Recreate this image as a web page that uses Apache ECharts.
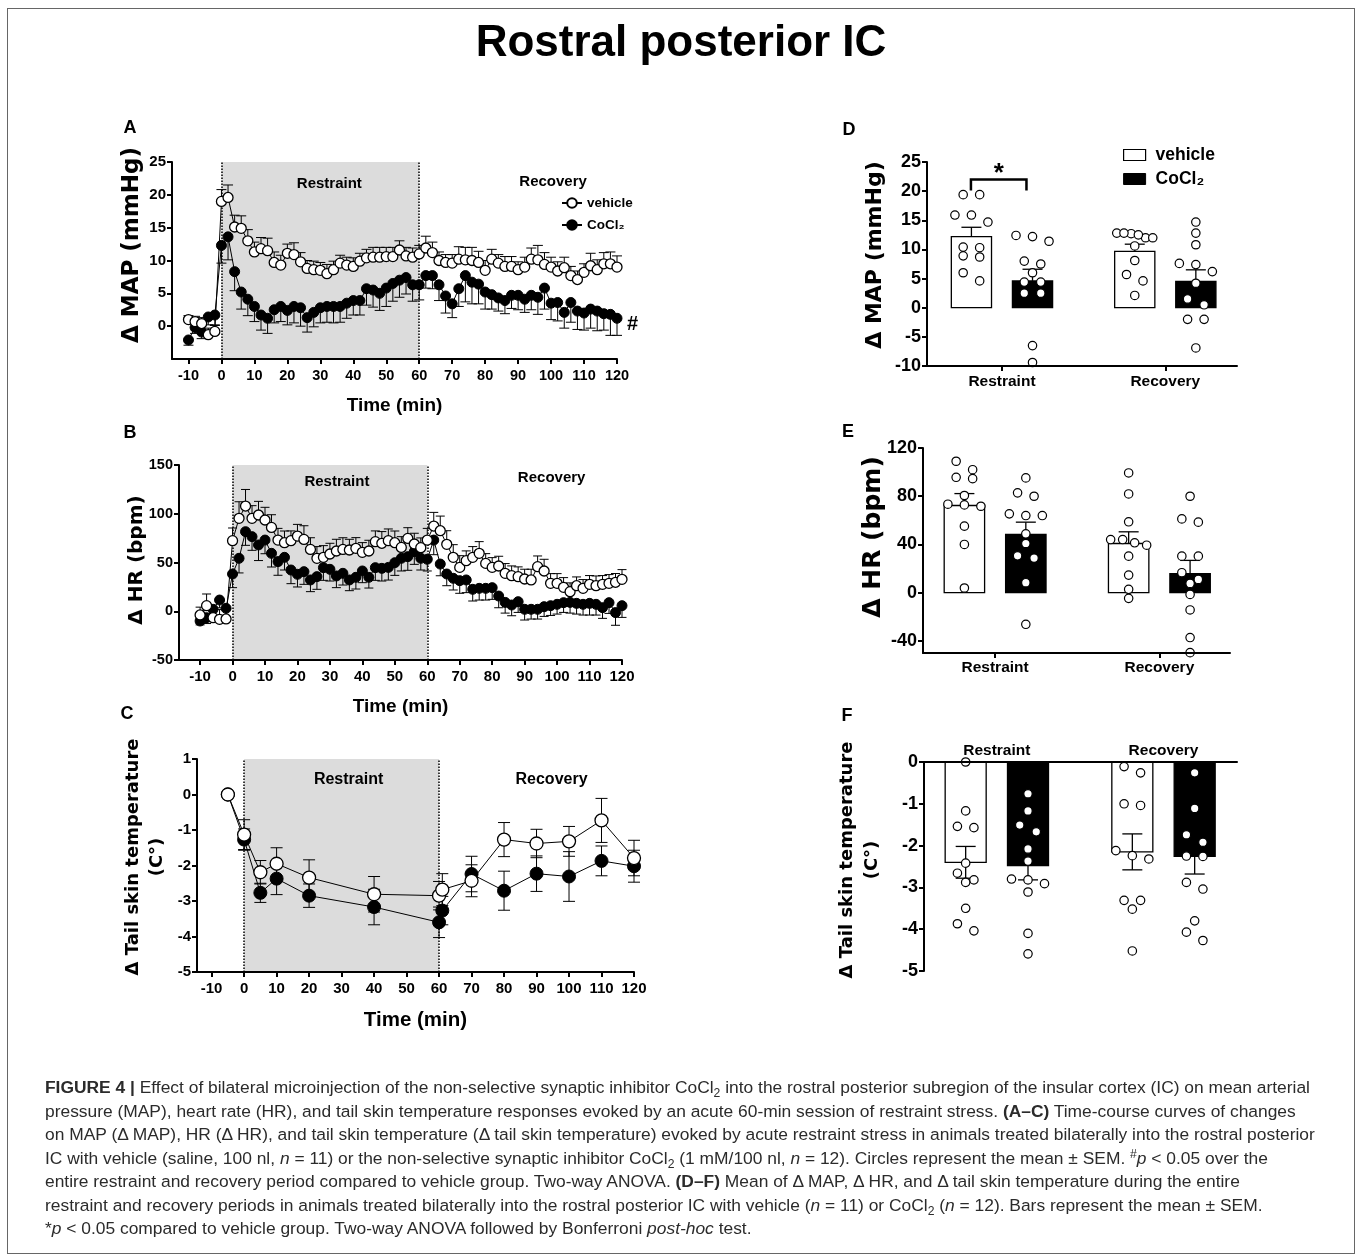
<!DOCTYPE html>
<html>
<head>
<meta charset="utf-8">
<title>Rostral posterior IC</title>
<script src="https://cdn.jsdelivr.net/npm/echarts@6/dist/echarts.min.js"></script>
<style>
  html, body { margin: 0; padding: 0; background: #fff; }
  #wrap { position: relative; width: 1358px; height: 1259px; overflow: hidden; }
  #chart { position: absolute; left: 0; top: 0; width: 1358px; height: 1259px; }
  #frame { position: absolute; left: 7px; top: 8px; width: 1348px; height: 1246px; border: 1px solid #666; box-sizing: border-box; pointer-events: none; }
  #caption { position: absolute; left: 45px; top: 1076px; width: 1290px; font-family: 'Liberation Sans', Arial, sans-serif; font-size: 17.4px; line-height: 23.5px; color: #2b2b2b; }
  #caption div { white-space: nowrap; }
  #caption sub { font-size: 0.7em; line-height: 0; vertical-align: -0.3em; }
  #caption sup { font-size: 0.7em; line-height: 0; vertical-align: 0.5em; }
</style>
</head>
<body>
<div id="wrap">
  <div id="chart"></div>
  <div id="frame"></div>
  <div id="caption">
    <div><b>FIGURE 4 |</b> Effect of bilateral microinjection of the non-selective synaptic inhibitor CoCl<sub>2</sub> into the rostral posterior subregion of the insular cortex (IC) on mean arterial</div>
    <div>pressure (MAP), heart rate (HR), and tail skin temperature responses evoked by an acute 60-min session of restraint stress. <b>(A–C)</b> Time-course curves of changes</div>
    <div>on MAP (Δ MAP), HR (Δ HR), and tail skin temperature (Δ tail skin temperature) evoked by acute restraint stress in animals treated bilaterally into the rostral posterior</div>
    <div>IC with vehicle (saline, 100 nl, <i>n</i> = 11) or the non-selective synaptic inhibitor CoCl<sub>2</sub> (1 mM/100 nl, <i>n</i> = 12). Circles represent the mean ± SEM. <sup>#</sup><i>p</i> &lt; 0.05 over the</div>
    <div>entire restraint and recovery period compared to vehicle group. Two-way ANOVA. <b>(D–F)</b> Mean of Δ MAP, Δ HR, and Δ tail skin temperature during the entire</div>
    <div>restraint and recovery periods in animals treated bilaterally into the rostral posterior IC with vehicle (<i>n</i> = 11) or CoCl<sub>2</sub> (<i>n</i> = 12). Bars represent the mean ± SEM.</div>
    <div>*<i>p</i> &lt; 0.05 compared to vehicle group. Two-way ANOVA followed by Bonferroni <i>post-hoc</i> test.</div>
  </div>
</div>
<script>
// ---- time course, panels A and B (min) ----
const timeAB = [-10, -8, -6, -4, -2, 0, 2, 4, 6, 8, 10, 12, 14, 16, 18, 20, 22, 24, 26, 28,
  30, 32, 34, 36, 38, 40, 42, 44, 46, 48, 50, 52, 54, 56, 58, 60, 62, 64, 66, 68,
  70, 72, 74, 76, 78, 80, 82, 84, 86, 88, 90, 92, 94, 96, 98, 100, 102, 104, 106, 108,
  110, 112, 114, 116, 118, 120];

// A: delta MAP (mmHg)
const mapVehicle = [1.0, 0.7, 0.4, -1.3, -0.8,
  19.0, 19.6, 15.1, 14.9, 13.0, 11.3, 11.8, 11.5, 9.7, 9.3,
  11.1, 10.9, 9.8, 8.8, 8.6, 8.5, 8.0, 8.6, 9.6, 9.3,
  9.1, 9.9, 10.4, 10.5, 10.5, 10.6, 10.6, 11.6, 10.7, 10.5,
  11.0, 11.9, 11.2, 10.0, 9.7, 9.6, 10.2, 10.1, 10.0, 9.7,
  8.5, 10.2, 9.6, 9.1, 9.1, 8.6, 9.0, 10.2, 10.1, 9.4,
  9.0, 8.4, 8.9, 7.7, 7.1, 8.2, 9.2, 8.6, 9.5, 9.5, 9.0];
const mapVehicleSem = [0.6, 0.8, 0.9, 1.0, 0.9,
  1.8, 1.9, 1.8, 1.9, 1.7, 1.5, 1.7, 1.9, 1.6, 1.5,
  1.4, 1.8, 1.4, 1.2, 1.3, 1.2, 1.4, 1.3, 1.2, 1.2,
  1.3, 1.2, 1.3, 1.5, 1.5, 1.4, 1.4, 1.4, 1.3, 1.4,
  1.3, 1.8, 1.6, 1.3, 1.2, 1.3, 1.9, 1.9, 2.0, 1.7,
  1.5, 1.5, 1.3, 1.5, 1.5, 1.2, 1.5, 1.7, 2.2, 1.8,
  1.5, 1.4, 1.6, 1.4, 1.3, 1.3, 1.9, 1.5, 1.7, 1.8, 1.7];
const mapCocl = [-2.1, -0.2, -0.9, 1.4, 1.7,
  12.3, 13.6, 8.3, 5.2, 4.1, 3.0, 1.7, 1.2, 2.5, 3.0,
  2.4, 3.0, 2.8, 1.3, 2.1, 2.8, 3.0, 3.0, 3.0, 3.5,
  3.9, 3.9, 5.7, 5.5, 5.0, 5.8, 6.5, 7.0, 7.4, 6.3,
  6.3, 7.7, 7.7, 6.3, 4.6, 3.4, 5.7, 7.7, 6.7, 6.4,
  5.2, 4.8, 4.3, 3.9, 4.7, 4.7, 4.1, 4.7, 4.4, 5.8,
  3.5, 3.6, 2.1, 3.6, 2.3, 2.0, 2.6, 2.3, 1.9, 1.8, 1.2];
const mapCoclSem = [0.8, 0.9, 1.0, 1.2, 1.5,
  2.7, 3.5, 2.9, 2.6, 2.5, 2.3, 2.3, 2.3, 2.0, 2.3,
  2.2, 2.5, 2.8, 2.2, 2.2, 2.3, 2.4, 2.5, 2.4, 2.3,
  2.2, 2.2, 2.5, 2.6, 2.6, 2.8, 2.7, 2.6, 2.5, 2.5,
  2.3, 1.9, 2.0, 2.4, 2.6, 2.1, 2.7, 4.0, 3.3, 3.0,
  2.6, 2.2, 2.0, 2.0, 2.0, 2.2, 2.0, 2.2, 2.6, 3.2,
  2.5, 2.8, 2.4, 3.0, 2.8, 2.6, 2.9, 3.0, 2.5, 3.2, 2.6];

// B: delta HR (bpm)
const hrVehicle = [-3.8, 5.7, -6.6, -8.3, -7.9,
  72.4, 95.3, 107.9, 95.3, 98.7, 93.6, 86.0, 73.0, 70.3, 72.4,
  77.1, 73.7, 63.4, 54.3, 55.3, 58.7, 61.8, 63.4, 62.8, 64.5,
  60.4, 61.8, 71.4, 69.7, 72.4, 70.3, 65.5, 74.7, 69.0, 65.2,
  73.0, 87.4, 82.6, 68.6, 55.3, 45.0, 51.9, 55.3, 59.4, 49.1,
  45.0, 46.4, 38.9, 36.5, 35.5, 33.1, 32.1, 45.7, 41.3, 28.6,
  28.6, 24.5, 20.1, 26.2, 23.5, 27.6, 26.2, 27.6, 28.6, 29.7, 32.7];
const hrVehicleSem = [8, 12, 10, 10, 10,
  13, 17, 17, 13, 14, 13, 13, 12, 12, 10,
  12, 14, 12, 12, 12, 11, 12, 12, 11, 11,
  10, 11, 11, 12, 12, 12, 11, 11, 11, 10,
  12, 14, 15, 14, 13, 12, 10, 11, 12, 10,
  10, 10, 10, 10, 10, 10, 11, 11, 12, 10,
  10, 10, 9, 9, 9, 9, 10, 9, 9, 9, 10];
const hrCocl = [-10, -6.6, 2.0, 11.5, 3.0,
  38.2, 54.3, 81.6, 76.5, 68.0, 73.0, 59.4, 50.9, 55.3, 42.3,
  37.9, 40.6, 32.1, 35.5, 44.7, 43.0, 36.2, 38.9, 32.1, 34.8,
  41.3, 34.8, 44.7, 44.0, 45.0, 49.8, 54.3, 56.0, 61.1, 54.3,
  53.3, 73.0, 48.4, 38.2, 33.8, 31.4, 32.1, 22.5, 23.5, 23.5,
  24.2, 15.6, 9.1, 6.4, 9.8, 2.0, 2.0, 2.0, 4.7, 5.7,
  7.1, 8.8, 9.1, 8.1, 7.1, 8.1, 7.1, 3.7, 8.8, -1.4, 5.7];
const hrCoclSem = [4, 6, 7, 8, 12,
  14, 15, 14, 14, 16, 14, 14, 14, 13, 14,
  13, 13, 12, 13, 13, 12, 12, 12, 11, 12,
  12, 11, 13, 13, 13, 13, 13, 14, 13, 12,
  12, 15, 12, 12, 12, 13, 13, 12, 12, 12,
  12, 12, 11, 11, 11, 11, 10, 10, 10, 10,
  10, 10, 11, 11, 11, 12, 11, 11, 11, 13, 12];

// C: delta tail skin temperature
const timeC = [-5, 0, 5, 10, 20, 40, 60, 61, 70, 80, 90, 100, 110, 120];
const tempVehicle = [0, -1.13, -2.19, -1.95, -2.34, -2.81, -2.85, -2.68, -2.43, -1.27, -1.38, -1.32, -0.73, -1.79];
const tempVehicleSem = [0, 0.42, 0.33, 0.45, 0.5, 0.5, 0.4, 0.45, 0.45, 0.48, 0.4, 0.42, 0.62, 0.5];
const tempCocl = [0, -1.27, -2.77, -2.37, -2.85, -3.17, -3.6, -3.27, -2.24, -2.71, -2.23, -2.31, -1.87, -2.02];
const tempCoclSem = [0, 0.3, 0.27, 0.45, 0.33, 0.5, 0.43, 0.4, 0.5, 0.55, 0.5, 0.7, 0.42, 0.45];

// ---- period means, panels D-F (Restraint, Recovery) ----
const periods = ['Restraint', 'Recovery'];
const dMapVehMean = [12.2, 9.65], dMapVehSem = [1.6, 1.25];
const dMapCoclMean = [4.6, 4.5], dMapCoclSem = [2.0, 2.0];
const eHrVehMean = [72.3, 40.8], eHrVehSem = [9.9, 9.7];
const eHrCoclMean = [48.3, 15.7], eHrCoclSem = [10.2, 11.1];
const fTempVehMean = [-2.40, -2.15], fTempVehSem = [0.38, 0.43];
const fTempCoclMean = [-2.48, -2.26], fTempCoclSem = [0.34, 0.42];

// individual animals
const mapVehRestraint = [19.4, 19.4, 15.9, 14.7, 15.9, 10.3, 10.4, 8.9, 8.7, 6.0, 4.6];
const mapCoclRestraint = [12.4, 11.4, 12.2, 8.0, 7.5, 6.0, 4.4, 4.4, 2.5, 2.5, -6.5, -9.4];
const mapVehRecovery = [12.7, 12.0, 12.8, 12.8, 12.0, 12.5, 10.6, 8.1, 5.7, 4.6, 2.1];
const mapCoclRecovery = [14.7, 12.8, 10.8, 7.6, 6.2, 7.4, 4.2, 1.5, 0.5, -2.0, -2.0, -6.9];
const hrVehRestraint = [109, 102, 95.7, 94.6, 80.6, 73.4, 71.7, 72.8, 55.2, 40, 3.9];
const hrCoclRestraint = [95.2, 80, 82.8, 64, 65.4, 64, 48.8, 40.8, 28.7, 30.6, 8.3, -26.2];
const hrVehRecovery = [99.3, 81.9, 58.8, 44.1, 39.4, 41.4, 44.1, 30.3, 14.6, 2.8, -4.7];
const hrCoclRecovery = [80, 61.2, 58.5, 30.3, 30.3, 16.6, 7.7, 11, -1.4, -14.3, -37.2, -49.7];
const tempVehRestraint = [0, -1.17, -1.57, -1.54, -2.42, -2.66, -2.82, -2.88, -3.5, -4.04, -3.87];
const tempCoclRestraint = [-0.76, -1.17, -1.51, -1.67, -2.08, -2.37, -2.8, -2.82, -2.91, -3.11, -4.1, -4.59];
const tempVehRecovery = [-0.11, -0.26, -1.04, -1.0, -2.12, -2.32, -2.24, -3.31, -3.31, -3.52, -4.52];
const tempCoclRecovery = [-0.26, -1.11, -1.74, -1.92, -2.25, -2.26, -2.88, -3.04, -3.8, -4.07, -4.27];

// significance bracket on D restraint: [period, top, leg end]
const sigBracket = [[1, 22.0, 20.1]];

const timeTicks = [-10, 0, 10, 20, 30, 40, 50, 60, 70, 80, 90, 100, 110, 120];

//#region helpers
const SANS = "'Liberation Sans', Arial, sans-serif";
const DEJAVU = "'DejaVu Sans', sans-serif";
const BAR_OFF = 0.187, BAR_HALF = 0.123, DOT_R = 4.2, DOT_ROW = 8.6;
const axisLineStyle = { color: '#000', width: 2 };

const zip3 = (xs, ys, es) => xs.map((x, i) => [x, ys[i], es[i]]);

function errorRender(dir, capW) {
  // dir: 1 up, -1 down, 0 both ways
  return (params, api) => {
    const x = api.value(0), m = api.value(1), s = api.value(2);
    const ends = dir === 0 ? [m - s, m + s] : [m, m + dir * s];
    const p1 = api.coord([x, ends[0]]), p2 = api.coord([x, ends[1]]);
    const st = { stroke: '#000', lineWidth: 1 };
    const children = [{ type: 'line', shape: { x1: p1[0], y1: p1[1], x2: p2[0], y2: p2[1] }, style: st }];
    (dir === 0 ? [p1, p2] : [p2]).forEach(p => children.push({
      type: 'line', shape: { x1: p[0] - capW / 2, y1: p[1], x2: p[0] + capW / 2, y2: p[1] }, style: st
    }));
    return { type: 'group', children };
  };
}

function errSeries(gi, xs, ys, es, dir, capW) {
  return {
    type: 'custom', xAxisIndex: gi, yAxisIndex: gi, z: 2, silent: true,
    data: zip3(xs, ys, es), encode: { x: 0, y: 1 }, renderItem: errorRender(dir, capW)
  };
}

function meanSeries(gi, name, xs, ys, filled, size, extra) {
  return Object.assign({
    type: 'line', name, xAxisIndex: gi, yAxisIndex: gi, silent: true,
    data: xs.map((x, i) => [x, ys[i]]),
    symbol: 'circle', symbolSize: size, showSymbol: true, z: filled ? 3 : 4,
    lineStyle: { color: '#000', width: 1 },
    itemStyle: filled ? { color: '#000', borderColor: '#000', borderWidth: 1 }
                      : { color: '#fff', borderColor: '#000', borderWidth: 1.3 },
    emphasis: { disabled: true }
  }, extra || {});
}

function phases(restOff, recOff, fontSize) {
  const lab = off => ({
    show: true, position: 'insideTop', distance: 0, offset: off, color: '#000',
    fontFamily: SANS, fontWeight: 'bold', fontSize
  });
  return {
    markArea: {
      silent: true, z: 1,
      data: [
        [{ name: 'Restraint', xAxis: 0, itemStyle: { color: '#dcdcdc' }, label: lab(restOff) }, { xAxis: 60 }],
        [{ name: 'Recovery', xAxis: 60, itemStyle: { color: 'rgba(0,0,0,0)' }, label: lab(recOff) }, { xAxis: 120 }]
      ]
    },
    markLine: {
      silent: true, z: 1, symbol: ['none', 'none'], label: { show: false },
      lineStyle: { color: '#000', type: 'dotted', width: 1.5 },
      data: [{ xAxis: 0 }, { xAxis: 60 }]
    }
  };
}

function timeXAxis(gi, min, fontSize, nameSize, nameGap) {
  return {
    type: 'value', gridIndex: gi, min, max: 120, z: 10,
    axisLine: { onZero: false, lineStyle: axisLineStyle },
    axisTick: { customValues: timeTicks, length: 5, lineStyle: axisLineStyle },
    axisLabel: { customValues: timeTicks, color: '#000', fontFamily: SANS, fontWeight: 'bold', fontSize, margin: 9 },
    splitLine: { show: false },
    name: 'Time (min)', nameLocation: 'middle', nameGap,
    nameTextStyle: { color: '#000', fontFamily: SANS, fontWeight: 'bold', fontSize: nameSize }
  };
}

function periodXAxis(gi, min, max, position, margin) {
  return {
    type: 'value', gridIndex: gi, min, max, position, z: 10,
    axisLine: { onZero: false, lineStyle: axisLineStyle },
    axisTick: { show: position !== 'top', customValues: [1, 2], length: 5, lineStyle: axisLineStyle },
    axisLabel: {
      customValues: [1, 2], formatter: v => periods[Math.round(v) - 1],
      color: '#000', fontFamily: SANS, fontWeight: 'bold', fontSize: 15.5, margin
    },
    splitLine: { show: false }
  };
}

function valueYAxis(gi, min, max, ticks, fontSize) {
  return {
    type: 'value', gridIndex: gi, min, max, z: 10,
    axisLine: { show: true, onZero: false, lineStyle: axisLineStyle },
    axisTick: { show: true, customValues: ticks, length: 5, lineStyle: axisLineStyle },
    axisLabel: { customValues: ticks, color: '#000', fontFamily: SANS, fontWeight: 'bold', fontSize, margin: 6 },
    splitLine: { show: false }
  };
}

// x offsets for a column of dots: values that overlap vertically share a row
function swarm(ys, rowH, maxGap, room) {
  const idx = ys.map((y, i) => i).sort((a, b) => ys[a] - ys[b]);
  const off = new Array(ys.length).fill(0);
  let i = 0;
  while (i < idx.length) {
    let j = i + 1;
    while (j < idx.length && ys[idx[j]] - ys[idx[i]] < rowH) j++;
    const k = j - i;
    const gap = k > 1 ? Math.min(maxGap, room / (k - 1)) : 0;
    for (let n = 0; n < k; n++) off[idx[i + n]] = (n - (k - 1) / 2) * gap;
    i = j;
  }
  return off;
}

function barRender(fill, bothWays) {
  return (params, api) => {
    const x = api.value(0), m = api.value(1), s = api.value(2);
    const a = api.coord([x - BAR_HALF, m]), b = api.coord([x + BAR_HALF, 0]);
    const dir = m >= 0 ? 1 : -1;
    const ends = bothWays ? [m - s, m + s] : [m, m + dir * s];
    const e1 = api.coord([x, ends[0]]), e2 = api.coord([x, ends[1]]);
    const st = { stroke: '#000', lineWidth: 1.3 };
    const children = [
      { type: 'rect', shape: { x: a[0], y: Math.min(a[1], b[1]), width: b[0] - a[0], height: Math.abs(b[1] - a[1]) },
        style: { fill, stroke: '#000', lineWidth: 1.3 } },
      { type: 'line', shape: { x1: e1[0], y1: e1[1], x2: e2[0], y2: e2[1] }, style: st }
    ];
    (bothWays ? [e1, e2] : [e2]).forEach(p => children.push({
      type: 'line', shape: { x1: p[0] - 10, y1: p[1], x2: p[0] + 10, y2: p[1] }, style: st
    }));
    return { type: 'group', children };
  };
}

function barPanel(gi, vehMean, vehSem, coclMean, coclSem, dots, bothWays) {
  const vehPos = [1 - BAR_OFF, 2 - BAR_OFF], coclPos = [1 + BAR_OFF, 2 + BAR_OFF];
  const groups = [
    { pos: vehPos[0], values: dots[0] }, { pos: coclPos[0], values: dots[1] },
    { pos: vehPos[1], values: dots[2] }, { pos: coclPos[1], values: dots[3] }
  ];
  const dotData = [];
  groups.forEach((g, k) => g.values.forEach((v, vi) => dotData.push([g.pos, v, k, vi])));
  return [
    { type: 'custom', xAxisIndex: gi, yAxisIndex: gi, z: 2, silent: true,
      data: zip3(vehPos, vehMean, vehSem), encode: { x: 0, y: 1 }, renderItem: barRender('#fff', bothWays) },
    { type: 'custom', xAxisIndex: gi, yAxisIndex: gi, z: 2, silent: true,
      data: zip3(coclPos, coclMean, coclSem), encode: { x: 0, y: 1 }, renderItem: barRender('#000', bothWays) },
    { type: 'custom', xAxisIndex: gi, yAxisIndex: gi, z: 5, silent: true,
      data: dotData, encode: { x: 0, y: 1 },
      renderItem: (params, api) => {
        const g = groups[api.value(2)], vi = api.value(3);
        const offs = swarm(g.values.map(v => api.coord([g.pos, v])[1]), DOT_ROW, 16.5, 36);
        const c = api.coord([g.pos, g.values[vi]]);
        return { type: 'circle', shape: { cx: c[0] + offs[vi], cy: c[1], r: DOT_R },
                 style: { fill: '#fff', stroke: '#000', lineWidth: 1.2 } };
      } }
  ];
}

function rotatedTitle(x, y, text, size, lineHeight) {
  return {
    type: 'text', x, y, rotation: Math.PI / 2, silent: true,
    style: {
      text, fill: '#000', fontFamily: DEJAVU, fontWeight: 'bold', fontSize: size, lineHeight: lineHeight || size,
      align: 'center', verticalAlign: 'middle', textAlign: 'center', textVerticalAlign: 'middle'
    }
  };
}

function plainText(x, y, text, size) {
  return {
    type: 'text', x, y, silent: true,
    style: {
      text, fill: '#000', fontFamily: SANS, fontWeight: 'bold', fontSize: size,
      align: 'center', verticalAlign: 'middle', textAlign: 'center', textVerticalAlign: 'middle'
    }
  };
}
//#endregion

const chart = echarts.init(document.getElementById('chart'), null, { renderer: 'canvas' });

const option = {
  animation: false,
  backgroundColor: '#fff',
  textStyle: { fontFamily: SANS },
  grid: [
    { left: 172, top: 162, width: 445, height: 197, outerBoundsMode: 'none' },  // A
    { left: 179, top: 465, width: 443, height: 195, outerBoundsMode: 'none' },  // B
    { left: 197, top: 759, width: 437, height: 213, outerBoundsMode: 'none' },  // C
    { left: 927, top: 162, width: 310, height: 204, outerBoundsMode: 'none' },  // D
    { left: 923, top: 448, width: 307, height: 205, outerBoundsMode: 'none' },  // E
    { left: 924, top: 762, width: 313, height: 209, outerBoundsMode: 'none' }   // F
  ],
  xAxis: [
    timeXAxis(0, -15, 14.5, 19, 37),
    timeXAxis(1, -16.5, 15, 19, 37),
    timeXAxis(2, -14.5, 15, 20.5, 38),
    periodXAxis(3, 0.541, 2.439, 'bottom', 8),
    periodXAxis(4, 0.561, 2.43, 'bottom', 7),
    periodXAxis(5, 0.563, 2.441, 'top', 3)
  ],
  yAxis: [
    valueYAxis(0, -5, 25, [0, 5, 10, 15, 20, 25], 15),
    valueYAxis(1, -50, 150, [-50, 0, 50, 100, 150], 14.5),
    valueYAxis(2, -5, 1, [-5, -4, -3, -2, -1, 0, 1], 15),
    valueYAxis(3, -10, 25, [-10, -5, 0, 5, 10, 15, 20, 25], 18),
    valueYAxis(4, -50, 120, [-40, 0, 40, 80, 120], 18),
    valueYAxis(5, -5, 0, [-5, -4, -3, -2, -1, 0], 18)
  ],
  legend: [
    { data: ['vehicle', 'CoCl₂'], orient: 'vertical', left: 561, top: 196, itemWidth: 20, itemHeight: 12,
      itemGap: 8, selectedMode: false, padding: 0,
      textStyle: { color: '#000', fontFamily: SANS, fontWeight: 'bold', fontSize: 13.5 } },
    { data: [
        { name: 'vehicle', icon: 'rect', itemStyle: { color: '#fff', borderColor: '#000', borderWidth: 1.2 } },
        { name: 'CoCl₂', icon: 'rect', itemStyle: { color: '#000', borderColor: '#000', borderWidth: 1 } }
      ],
      orient: 'vertical', left: 1123, top: 146, itemWidth: 22, itemHeight: 11, itemGap: 6,
      selectedMode: false, padding: 0,
      textStyle: { color: '#000', fontFamily: SANS, fontWeight: 'bold', fontSize: 17.5, padding: [0, 0, 0, 5] } }
  ],
  graphic: [
    plainText(681, 44, 'Rostral posterior IC', 44),
    plainText(130, 128, 'A', 18), plainText(130, 433, 'B', 18), plainText(127, 714, 'C', 18),
    plainText(849, 130, 'D', 18), plainText(848, 432, 'E', 18), plainText(847, 716, 'F', 18),
    rotatedTitle(132, 245, 'Δ MAP (mmHg)', 23),
    rotatedTitle(137, 560, 'Δ HR (bpm)', 20),
    rotatedTitle(145, 857, 'Δ Tail skin temperature\n(C°)', 18, 24),
    rotatedTitle(875, 255, 'Δ MAP (mmHg)', 22),
    rotatedTitle(873, 537, 'Δ HR (bpm)', 25),
    rotatedTitle(860, 860, 'Δ Tail skin temperature\n(C°)', 18, 25)
  ],
  series: [
    // A
    errSeries(0, timeAB, mapCocl, mapCoclSem, -1, 10),
    errSeries(0, timeAB, mapVehicle, mapVehicleSem, 1, 10),
    meanSeries(0, 'CoCl₂', timeAB, mapCocl, true, 10, {
      endLabel: { show: true, formatter: '#', distance: 10, offset: [0, 6], color: '#000',
                  fontFamily: SANS, fontWeight: 'bold', fontSize: 20 }
    }),
    meanSeries(0, 'vehicle', timeAB, mapVehicle, false, 10, phases([9, 14], [35, 12], 15)),
    // B
    errSeries(1, timeAB, hrCocl, hrCoclSem, -1, 9),
    errSeries(1, timeAB, hrVehicle, hrVehicleSem, 1, 9),
    meanSeries(1, 'CoCl₂', timeAB, hrCocl, true, 10),
    meanSeries(1, 'vehicle', timeAB, hrVehicle, false, 10, phases([7, 9], [27, 5.5], 15)),
    // C
    errSeries(2, timeC, tempCocl, tempCoclSem, 0, 12),
    errSeries(2, timeC, tempVehicle, tempVehicleSem, 0, 12),
    meanSeries(2, 'CoCl₂', timeC, tempCocl, true, 13),
    meanSeries(2, 'vehicle', timeC, tempVehicle, false, 13, phases([7, 13], [15, 13], 16)),
    // D, E, F
    ...barPanel(3, dMapVehMean, dMapVehSem, dMapCoclMean, dMapCoclSem,
      [mapVehRestraint, mapCoclRestraint, mapVehRecovery, mapCoclRecovery], false),
    ...barPanel(4, eHrVehMean, eHrVehSem, eHrCoclMean, eHrCoclSem,
      [hrVehRestraint, hrCoclRestraint, hrVehRecovery, hrCoclRecovery], false),
    ...barPanel(5, fTempVehMean, fTempVehSem, fTempCoclMean, fTempCoclSem,
      [tempVehRestraint, tempCoclRestraint, tempVehRecovery, tempCoclRecovery], true),
    {
      type: 'custom', xAxisIndex: 3, yAxisIndex: 3, z: 6, silent: true,
      data: sigBracket, encode: { x: 0, y: 1 },
      renderItem: (params, api) => {
        const x = api.value(0), top = api.value(1), leg = api.value(2);
        const a = api.coord([x - 0.19, leg]), b = api.coord([x - 0.19, top]);
        const c = api.coord([x + 0.15, top]), d = api.coord([x + 0.15, leg]);
        return { type: 'group', children: [
          { type: 'polyline', shape: { points: [a, b, c, d] }, style: { stroke: '#000', lineWidth: 2.5, fill: null } },
          { type: 'text', style: { text: '*', x: (b[0] + c[0]) / 2, y: b[1] - 6, fill: '#000',
              fontFamily: SANS, fontWeight: 'bold', fontSize: 26,
              align: 'center', verticalAlign: 'middle', textAlign: 'center', textVerticalAlign: 'middle' } }
        ] };
      }
    }
  ]
};

chart.setOption(option);
</script>
</body>
</html>
